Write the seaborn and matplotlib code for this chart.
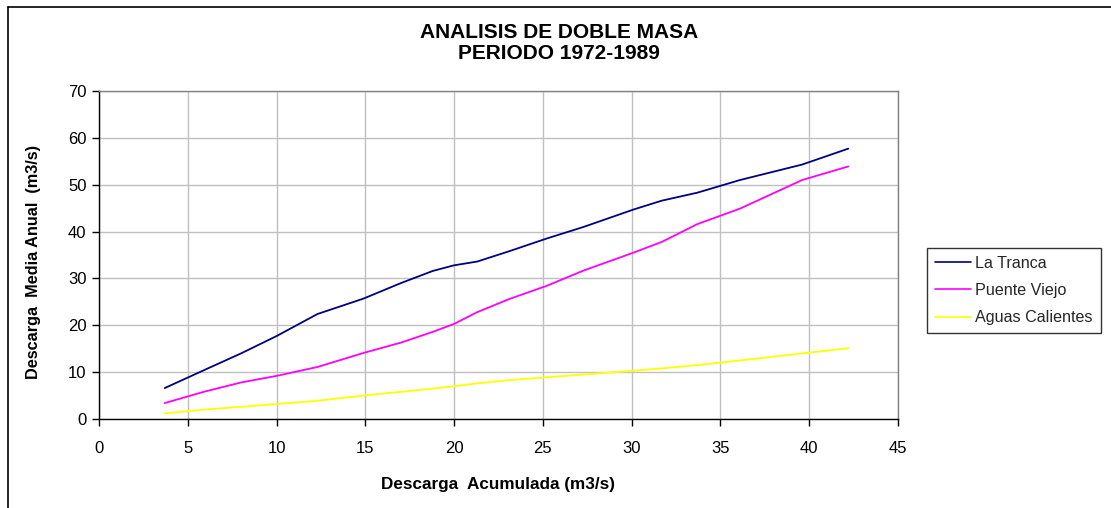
import matplotlib
matplotlib.use("Agg")
import matplotlib.pyplot as plt
from matplotlib.lines import Line2D
import seaborn as sns
import pandas as pd

# ---- data ----
x_acum = [3.7, 5.9, 8.0, 10.0, 12.3, 14.9, 17.0, 18.8, 20.0, 21.3, 23.1,
          25.2, 27.3, 30.1, 31.7, 33.7, 36.1, 39.6, 42.2]
la_tranca = [6.6, 10.4, 14.0, 17.7, 22.4, 25.7, 29.0, 31.6, 32.8, 33.6, 35.8,
             38.5, 41.0, 44.7, 46.6, 48.3, 51.0, 54.3, 57.7]
puente_viejo = [3.4, 5.8, 7.8, 9.2, 11.1, 14.1, 16.3, 18.6, 20.3, 22.8, 25.6,
                28.4, 31.7, 35.5, 37.8, 41.6, 44.9, 51.0, 53.9]
aguas_calientes = [1.2, 2.0, 2.6, 3.2, 3.9, 5.0, 5.8, 6.5, 7.0, 7.6, 8.3,
                   8.9, 9.5, 10.3, 10.8, 11.5, 12.5, 14.0, 15.1]
series_names = ["La Tranca", "Puente Viejo", "Aguas Calientes"]
series_colors = ["#000080", "#FF00FF", "#FFFF00"]
x_ticks = [0, 5, 10, 15, 20, 25, 30, 35, 40, 45]
y_ticks = [0, 10, 20, 30, 40, 50, 60, 70]

title_text = "ANALISIS DE DOBLE MASA\nPERIODO 1972-1989"
x_label = "Descarga  Acumulada (m3/s)"
y_label = "Descarga  Media Anual  (m3/s)"

df = pd.concat([
    pd.DataFrame({"x": x_acum, "y": vals, "serie": name})
    for name, vals in zip(series_names, [la_tranca, puente_viejo, aguas_calientes])
], ignore_index=True)

sns.set_theme(style="white")
plt.rcParams["font.family"] = ["Liberation Sans", "DejaVu Sans"]

W, H = 1111, 508
fig = plt.figure(figsize=(W / 100, H / 100), dpi=100)
ax = fig.add_axes([99 / W, 1 - 419 / H, (898 - 99) / W, (419 - 91) / H])

sns.lineplot(data=df, x="x", y="y", hue="serie", hue_order=series_names,
             palette=series_colors, sort=False, estimator=None, linewidth=1.3,
             ax=ax, legend=False)

ax.set_xlim(0, 45)
ax.set_ylim(0, 70)
ax.set_xticks(x_ticks)
ax.set_yticks(y_ticks)
ax.grid(True, color="#c0c0c0", linewidth=1.0)
ax.set_axisbelow(True)

for s in ["left", "bottom"]:
    ax.spines[s].set_color("black")
    ax.spines[s].set_linewidth(1.0)
for s in ["top", "right"]:
    ax.spines[s].set_color("#808080")
    ax.spines[s].set_linewidth(1.0)

ax.tick_params(axis="both", which="major", direction="out", length=5, width=1,
               color="black", labelsize=12, labelcolor="black", pad=4, bottom=True, left=True)
ax.tick_params(axis="x", pad=11)

ax.set_xlabel(x_label, fontsize=12.3, fontweight="bold", color="black")
ax.set_ylabel(y_label, fontsize=11.7, fontweight="bold", color="black")
ax.xaxis.set_label_coords(0.5, -0.178)
ax.yaxis.set_label_coords(-0.072, 0.48)

fig.text(559 / W, 1 - 43 / H, title_text, ha="center", va="center",
         fontsize=15, fontweight="bold", linespacing=1.1, color="black")

handles = [Line2D([0], [0], color=c, lw=1.2) for c in series_colors]
leg = fig.legend(handles, series_names, loc="upper left",
                 bbox_to_anchor=(927 / W, 1 - 248 / H), frameon=True, fancybox=False,
                 fontsize=11.6, handlelength=2.2, handletextpad=0.3,
                 labelspacing=0.75, borderpad=0.5, borderaxespad=0)
leg.get_frame().set_edgecolor("black")
leg.get_frame().set_linewidth(1.0)

# chart-area border (top and left visible in the reference)
fig.add_artist(Line2D([8 / W, 8 / W], [0, 1 - 7 / H], transform=fig.transFigure,
                      color="black", lw=1.2))
fig.add_artist(Line2D([8 / W, 1], [1 - 7 / H, 1 - 7 / H], transform=fig.transFigure,
                      color="black", lw=1.2))

fig.savefig("out.png", dpi=100, facecolor="white")
